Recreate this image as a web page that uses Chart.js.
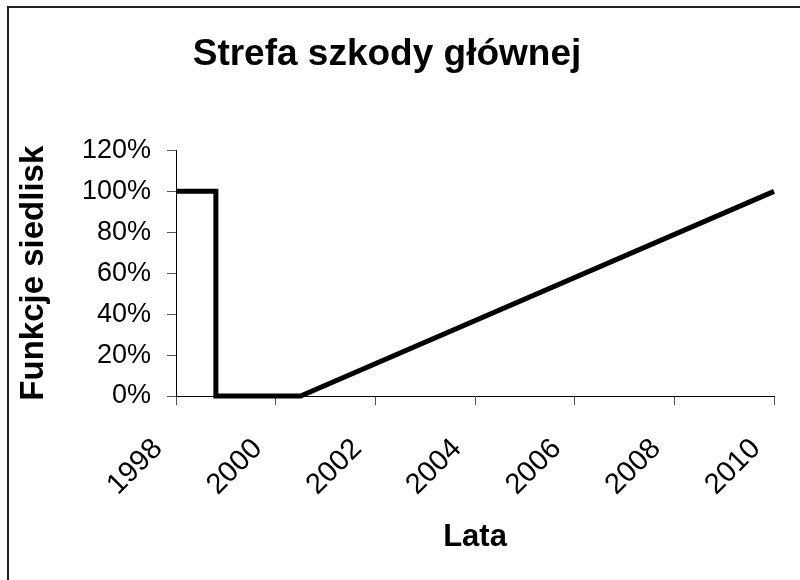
<!DOCTYPE html>
<html>
<head>
<meta charset="utf-8">
<script src="https://cdn.jsdelivr.net/npm/chart.js@4/dist/chart.umd.min.js"></script>
<style>
body{margin:0;background:#fff;}
#ramka{position:absolute;left:7px;top:6px;width:800px;height:580px;border-left:2px solid #222;border-top:2px solid #222;}
#wykres{position:absolute;left:0;top:0;}
</style>
</head>
<body>
<div id="ramka"></div>
<canvas id="wykres" width="800" height="580"></canvas>
<script>
/* DANE */
const lata=[1998,1998.8,1998.8,2000.5,2010];
const funkcje=[1,1,0,0,1];
const tytul="Strefa szkody głównej";
const osX="Lata";
const osY="Funkcje siedlisk";

const punkty=lata.map((x,i)=>({x:x,y:funkcje[i]}));

const czcionka="'Liberation Sans', Arial, sans-serif";

new Chart(document.getElementById("wykres"),{
type:'line',
data:{datasets:[{
data:punkty,
borderColor:'#000',
borderWidth:5,
pointRadius:0,
tension:0,
fill:false,
clip:false
}]},
options:{
responsive:false,
animation:false,
layout:{padding:{left:0,right:26,top:0,bottom:0}},
plugins:{
legend:{display:false},
tooltip:{enabled:false},
title:{
display:true,
text:tytul,
color:'#000',
font:{family:czcionka,size:37,weight:'bold'},
padding:{top:33,bottom:73}
}
},
scales:{
x:{
type:'linear',
min:1998,max:2010,
// stała wysokość osi, bez dodatkowych marginesów na obrócone etykiety
afterFit:(s)=>{s.height=184;s.paddingLeft=0;s.paddingRight=0;},
border:{display:true,color:'#000',width:1},
grid:{drawOnChartArea:false,drawTicks:true,tickLength:9,color:'#555'},
ticks:{stepSize:2,minRotation:45,maxRotation:45,color:'#000',padding:27,labelOffset:-18,
font:{family:czcionka,size:29},
callback:(v)=>String(v)},
title:{display:true,text:osX,color:'#000',
font:{family:czcionka,size:31,weight:'bold'},padding:{top:0,bottom:24}}
},
y:{
min:0,max:1.2,
afterFit:(s)=>{s.width=176;},
border:{display:true,color:'#000',width:1},
grid:{drawOnChartArea:false,drawTicks:true,tickLength:9,color:'#555'},
ticks:{stepSize:0.2,color:'#000',padding:16,
font:{family:czcionka,size:27},
callback:(v)=>Math.round(v*100)+'%'},
title:{display:true,text:osY,color:'#000',
font:{family:czcionka,size:33,weight:'bold'},padding:{top:14,bottom:0}}
}
}
}
});
</script>
</body>
</html>
